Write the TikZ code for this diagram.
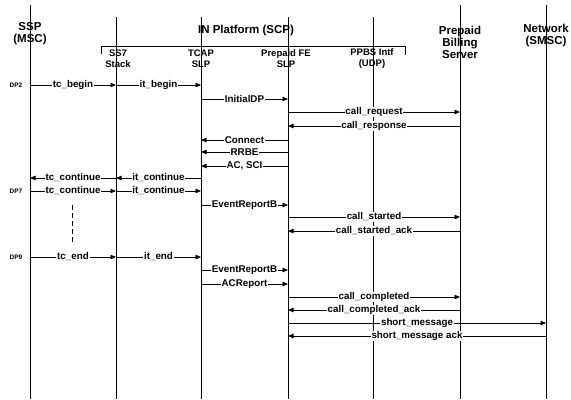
\documentclass[tikz,border=0pt]{standalone}
\usepackage{fontspec}
\setmainfont{Liberation Sans}
\usetikzlibrary{arrows.meta}
\newcommand\hdfont{\fontsize{11.5bp}{12bp}\selectfont\bfseries}
\newcommand\subfont{\fontsize{9.5bp}{10.5bp}\selectfont\bfseries}
\newcommand\msgfont{\fontsize{9.8bp}{10bp}\selectfont\bfseries}
\newcommand\dpfont{\fontsize{6.5bp}{7bp}\selectfont\bfseries}
\tikzset{
  life/.style={line width=0.7bp},
  msg/.style={line width=0.7bp,-{Triangle[length=5.5bp,width=4.5bp]}},
  lbl/.style={fill=white,inner sep=0.8bp,font=\msgfont},
  hd/.style={align=center,font=\hdfont,inner sep=0pt},
  sub/.style={align=center,font=\subfont,inner sep=0pt},
  dp/.style={font=\dpfont,inner sep=0pt},
}
\begin{document}
\begin{tikzpicture}[x=1bp,y=-1bp]
\useasboundingbox (0,0) rectangle (571,399);
% lifeline tops
\coordinate (ssp) at (30,5);
\coordinate (ss7) at (116,17);
\coordinate (tcap) at (201,17);
\coordinate (fe) at (288,17);
\coordinate (ppbs) at (373,17);
\coordinate (bill) at (460,5);
\coordinate (net) at (546,5);
\coordinate (bot) at (0,399);
% headers
\node[hd] (hssp) at (30,34) {SSP\\(MSC)};
\node[hd] (hin) at (246,31) {IN Platform (SCP)};
\node[hd] (hbill) at (460,42) {Prepaid\\Billing\\Server};
\node[hd] (hnet) at (546,36) {Network\\(SMSC)};
\node[sub] (hss7) at (118,58.5) {SS7\\Stack};
\node[sub] (htcap) at (201,58.5) {TCAP\\SLP};
\node[sub] (hfe) at (286,58.5) {Prepaid FE\\SLP};
\node[sub] (hppbs) at (372,58.5) {PPBS Intf\\(UDP)};
% platform bracket
\coordinate (bl) at (101,46);
\coordinate (br) at (405,46);
\draw[life] ([yshift=-8bp]bl) -- (bl) -- (br) -- ([yshift=-9bp]br);
% lifelines
\foreach \l in {ssp,ss7,tcap,fe,ppbs,bill,net}
  \draw[life] (\l) -- (\l |- bot);
% rows
\coordinate (r1) at (0,85);
\coordinate (r2) at (0,99);
\coordinate (r3) at (0,112);
\coordinate (r4) at (0,126);
\coordinate (r5) at (0,140);
\coordinate (r6) at (0,152);
\coordinate (r7) at (0,166);
\coordinate (r8) at (0,178);
\coordinate (r9) at (0,191);
\coordinate (r10) at (0,205);
\coordinate (r11) at (0,217);
\coordinate (r12) at (0,231);
\coordinate (r13) at (0,257);
\coordinate (r14) at (0,270);
\coordinate (r15) at (0,284);
\coordinate (r16) at (0,297);
\coordinate (r17) at (0,310);
\coordinate (r18) at (0,323);
\coordinate (r19) at (0,336);
% DP labels
\node[dp] (dp2) at (16,85) {DP2};
\node[dp] (dp7) at (16,191) {DP7};
\node[dp] (dp9) at (16,257) {DP9};
% messages
\draw[msg] (ssp |- r1) -- node[lbl]{tc\_begin} (ss7 |- r1);
\draw[msg] (ss7 |- r1) -- node[lbl]{it\_begin} (tcap |- r1);
\draw[msg] (tcap |- r2) -- node[lbl]{InitialDP} (fe |- r2);
\draw[msg] (fe |- r3) -- node[lbl]{call\_request} (bill |- r3);
\draw[msg] (bill |- r4) -- node[lbl]{call\_response} (fe |- r4);
\draw[msg] (fe |- r5) -- node[lbl]{Connect} (tcap |- r5);
\draw[msg] (fe |- r6) -- node[lbl]{RRBE} (tcap |- r6);
\draw[msg] (fe |- r7) -- node[lbl]{AC, SCI} (tcap |- r7);
\draw[msg] (ss7 |- r8) -- node[lbl]{tc\_continue} (ssp |- r8);
\draw[msg] (tcap |- r8) -- node[lbl]{it\_continue} (ss7 |- r8);
\draw[msg] (ssp |- r9) -- node[lbl]{tc\_continue} (ss7 |- r9);
\draw[msg] (ss7 |- r9) -- node[lbl]{it\_continue} (tcap |- r9);
\draw[msg] (tcap |- r10) -- node[lbl]{EventReportB} (fe |- r10);
\draw[msg] (fe |- r11) -- node[lbl]{call\_started} (bill |- r11);
\draw[msg] (bill |- r12) -- node[lbl]{call\_started\_ack} (fe |- r12);
\coordinate (gap1) at (72,205);
\coordinate (gap2) at (72,245);
\draw[life,dash pattern=on 5bp off 3bp] (gap1) -- (gap2);
\draw[msg] (ssp |- r13) -- node[lbl]{tc\_end} (ss7 |- r13);
\draw[msg] (ss7 |- r13) -- node[lbl]{it\_end} (tcap |- r13);
\draw[msg] (tcap |- r14) -- node[lbl]{EventReportB} (fe |- r14);
\draw[msg] (tcap |- r15) -- node[lbl]{ACReport} (fe |- r15);
\draw[msg] (fe |- r16) -- node[lbl]{call\_completed} (bill |- r16);
\draw[msg] (bill |- r17) -- node[lbl]{call\_completed\_ack} (fe |- r17);
\draw[msg] (fe |- r18) -- node[lbl]{short\_message} (net |- r18);
\draw[msg] (net |- r19) -- node[lbl]{short\_message ack} (fe |- r19);
\end{tikzpicture}
\end{document}
